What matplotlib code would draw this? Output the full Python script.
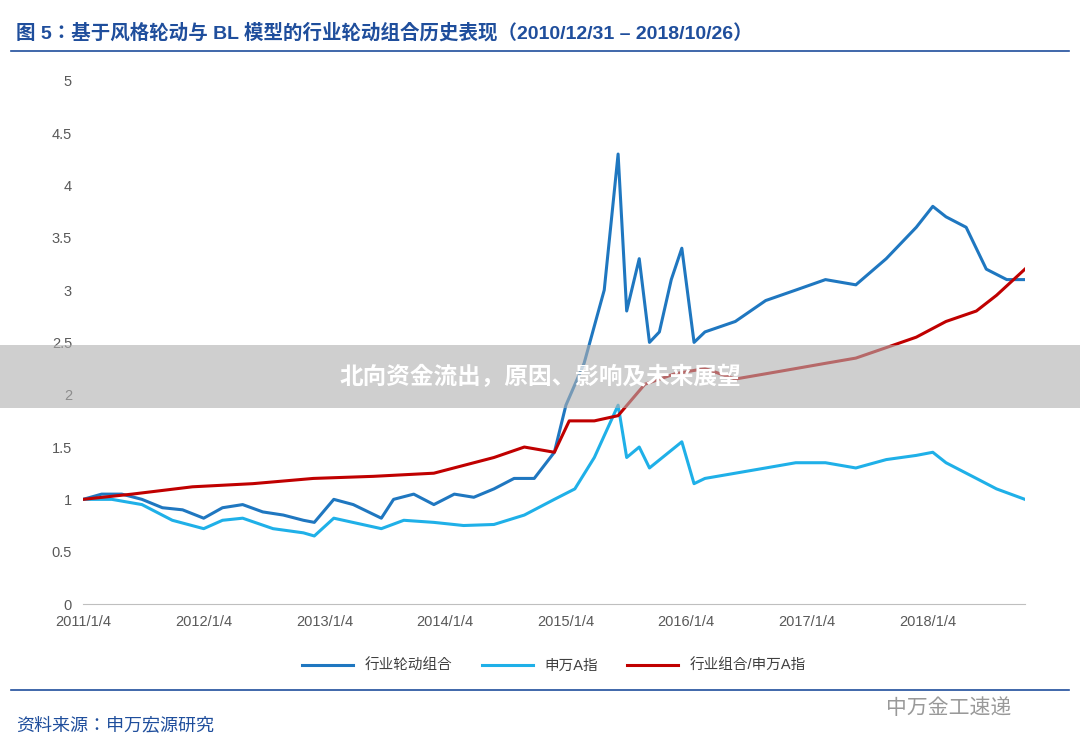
import matplotlib
matplotlib.use("Agg")
import matplotlib.pyplot as plt
import matplotlib.font_manager as fm
import pandas as pd
from matplotlib.patches import Rectangle
from matplotlib.lines import Line2D

cjk = sorted({f.name for f in fm.fontManager.ttflist if "CJK" in f.name and "Sans" in f.name})
cjk_name = "Noto Sans CJK SC" if "Noto Sans CJK SC" in cjk else (cjk[0] if cjk else "DejaVu Sans")
plt.rcParams['font.family'] = ['Liberation Sans', cjk_name, 'DejaVu Sans']

rot_dates = ["2011-01-04","2011-03-01","2011-05-01","2011-07-01","2011-09-01","2011-11-01","2012-01-04","2012-03-01","2012-05-01","2012-07-01","2012-09-01","2012-11-01","2012-12-04","2013-02-01","2013-04-01","2013-06-25","2013-08-01","2013-10-01","2013-12-01","2014-02-01","2014-04-01","2014-06-01","2014-08-01","2014-10-01","2014-12-01","2015-01-05","2015-03-01","2015-05-01","2015-06-12","2015-07-08","2015-08-15","2015-09-15","2015-10-15","2015-11-20","2015-12-22","2016-01-28","2016-03-01","2016-06-01","2016-09-01","2016-12-01","2017-03-01","2017-06-01","2017-09-01","2017-12-01","2018-01-20","2018-03-01","2018-05-01","2018-07-01","2018-09-01","2018-10-26"]
rot_vals = [1.0,1.05,1.05,1.0,0.92,0.9,0.82,0.92,0.95,0.88,0.85,0.8,0.78,1.0,0.95,0.82,1.0,1.05,0.95,1.05,1.02,1.1,1.2,1.2,1.45,1.9,2.3,3.0,4.3,2.8,3.3,2.5,2.6,3.1,3.4,2.5,2.6,2.7,2.9,3.0,3.1,3.05,3.3,3.6,3.8,3.7,3.6,3.2,3.1,3.1]

sw_dates = ["2011-01-04","2011-04-01","2011-07-01","2011-10-01","2012-01-04","2012-03-01","2012-05-01","2012-08-01","2012-11-01","2012-12-04","2013-02-01","2013-06-25","2013-09-01","2013-12-01","2014-03-01","2014-06-01","2014-09-01","2014-12-01","2015-02-01","2015-04-01","2015-06-12","2015-07-08","2015-08-15","2015-09-15","2015-12-22","2016-01-28","2016-03-01","2016-06-01","2016-09-01","2016-12-01","2017-03-01","2017-06-01","2017-09-01","2017-12-01","2018-01-20","2018-03-01","2018-06-01","2018-08-01","2018-10-26"]
sw_vals = [1.0,1.0,0.95,0.8,0.72,0.8,0.82,0.72,0.68,0.65,0.82,0.72,0.8,0.78,0.75,0.76,0.85,1.0,1.1,1.4,1.9,1.4,1.5,1.3,1.55,1.15,1.2,1.25,1.3,1.35,1.35,1.3,1.38,1.42,1.45,1.35,1.2,1.1,1.0]

ratio_dates = ["2011-01-04","2011-06-01","2011-12-01","2012-06-01","2012-12-01","2013-06-01","2013-12-01","2014-06-01","2014-09-01","2014-12-01","2015-01-15","2015-04-01","2015-06-12","2015-09-01","2015-12-01","2016-03-01","2016-06-01","2016-09-01","2016-12-01","2017-03-01","2017-06-01","2017-09-01","2017-12-01","2018-03-01","2018-06-01","2018-08-01","2018-10-26"]
ratio_vals = [1.0,1.05,1.12,1.15,1.2,1.22,1.25,1.4,1.5,1.45,1.75,1.75,1.8,2.1,2.2,2.25,2.15,2.2,2.25,2.3,2.35,2.45,2.55,2.7,2.8,2.95,3.2]

tick_dates = ["2011-01-04","2012-01-04","2013-01-04","2014-01-04","2015-01-04","2016-01-04","2017-01-04","2018-01-04"]
tick_labels = ["2011/1/4","2012/1/4","2013/1/4","2014/1/4","2015/1/4","2016/1/4","2017/1/4","2018/1/4"]
series_names = ["行业轮动组合","申万A指","行业组合/申万A指"]
colors = ["#1f77c0","#1fb0e8","#c00000"]

fig = plt.figure(figsize=(10.8, 7.55), dpi=100)
ax = fig.add_axes([0.077, 0.2, 0.872, 0.693])
for d, v, c, n in [(rot_dates, rot_vals, colors[0], series_names[0]),
                   (sw_dates, sw_vals, colors[1], series_names[1]),
                   (ratio_dates, ratio_vals, colors[2], series_names[2])]:
    ax.plot(pd.to_datetime(d), v, color=c, lw=2.2, label=n)
ax.set_ylim(0, 5)
ax.set_yticks([0, 0.5, 1, 1.5, 2, 2.5, 3, 3.5, 4, 4.5, 5])
ax.set_yticklabels(["0","0.5","1","1.5","2","2.5","3","3.5","4","4.5","5"])
ax.set_xlim(pd.Timestamp("2011-01-04"), pd.Timestamp("2018-10-26"))
ax.set_xticks(pd.to_datetime(tick_dates))
ax.set_xticklabels(tick_labels)
ax.tick_params(labelsize=10.5, colors="#595959", length=0, pad=8)
for s in ["top", "right", "left"]:
    ax.spines[s].set_visible(False)
ax.spines["bottom"].set_color("#bfbfbf")
ax.legend(loc="upper center", bbox_to_anchor=(0.5, -0.08), ncol=3, frameon=False,
          fontsize=10.5, handlelength=3.5, labelcolor="#404040")

fig.text(0.015, 0.956, "图 5：基于风格轮动与 BL 模型的行业轮动组合历史表现（2010/12/31 – 2018/10/26）",
         fontsize=14, color="#1f4e9c", fontweight="bold", va="center")
fig.add_artist(Line2D([0.01, 0.99], [0.932, 0.932], color="#1f4e9c", lw=1.2))
fig.add_artist(Line2D([0.01, 0.99], [0.086, 0.086], color="#1f4e9c", lw=1.2))
fig.text(0.015, 0.038, "资料来源：申万宏源研究", fontsize=13, color="#1f4e9c", va="center")
fig.text(0.82, 0.062, "中万金工速递", fontsize=15, color="#999999", va="center")
fig.add_artist(Rectangle((0, 0.46), 1, 0.083, transform=fig.transFigure,
                         facecolor="#b0b0b0", alpha=0.6, edgecolor="none"))
fig.text(0.5, 0.5, "北向资金流出，原因、影响及未来展望", fontsize=17, color="white",
         fontweight="bold", ha="center", va="center")
fig.savefig("out.png", dpi=100)
